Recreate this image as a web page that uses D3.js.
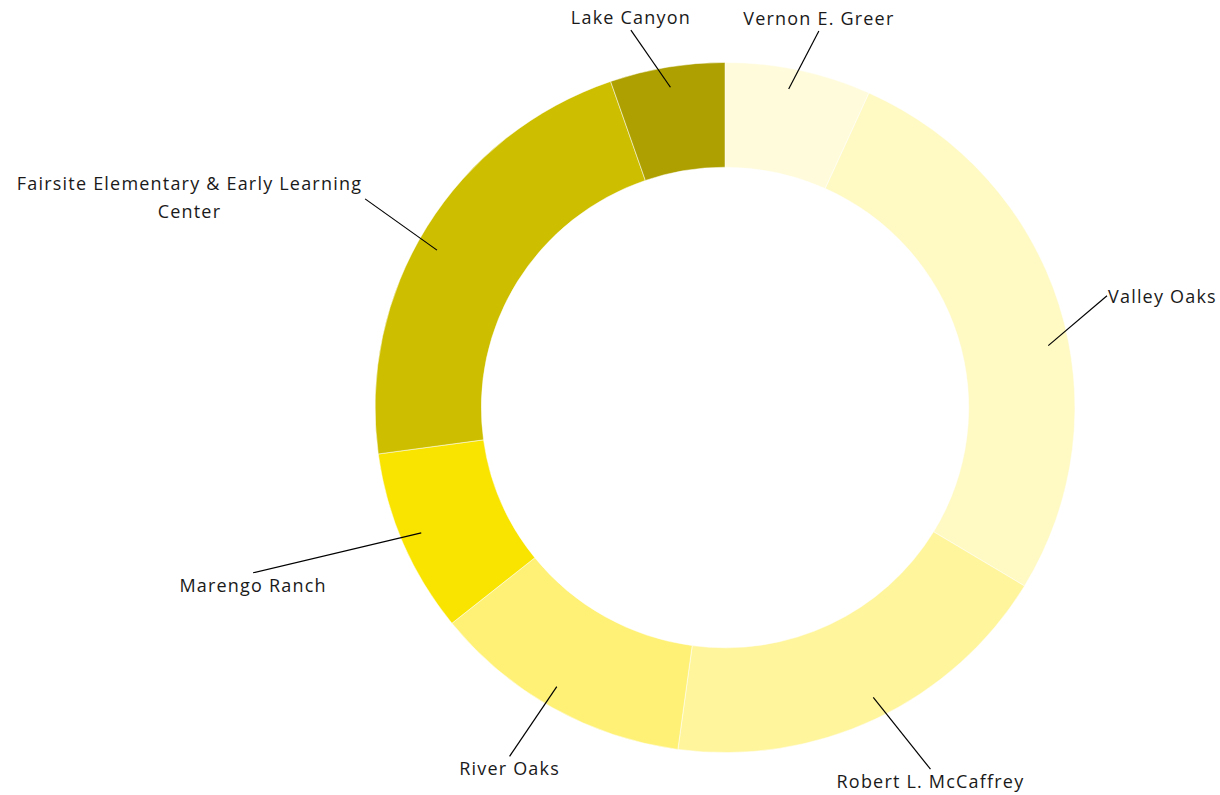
<!DOCTYPE html>
<html>
<head>
<meta charset="utf-8">
<script src="https://cdn.jsdelivr.net/npm/d3@7"></script>
<style>
  html, body { margin: 0; padding: 0; background: #fff; }
  svg { display: block; }
  .lbl { font-family: "Open Sans", sans-serif; font-size: 18px; fill: #1a1a1a; letter-spacing: 1.2px; }
</style>
</head>
<body>
<div id="chart"></div>
<script>
// 饼图数据 (读图估计的份额, %)
const schools = ["Vernon E. Greer", "Valley Oaks", "Robert L. McCaffrey", "River Oaks",
  "Marengo Ranch", "Fairsite Elementary & Early Learning Center", "Lake Canyon"];
const shares = [6.75, 26.9, 18.5, 12.1, 8.6, 21.85, 5.3];
const colors = ["#fffbdb", "#fff9c4", "#fff59d", "#fff176", "#f9e400", "#cdbf00", "#ada000"];

// 标签: 引线内端相对扇区中线的偏移(度), 外端角度(度, 顺时针自12点)和半径, 文字摆放方式
const leadNudge = [-1, 6.3, -1.2, 1.2, 0.5, -2.6, 0];
const labelAngle = [14, 73.7, 150.4, 211.7, 250.7, 300.1, 346];
const labelRadius = [388, 398, 416, 410, 500, 416, 389];
const labelMode = ["above", "right", "below", "below", "below", "left", "above"];
const labelLines = [["Vernon E. Greer"], ["Valley Oaks"], ["Robert L. McCaffrey"], ["River Oaks"],
  ["Marengo Ranch"], ["Fairsite Elementary & Early Learning", "Center"], ["Lake Canyon"]];

const W = 1220, H = 795;
const cx = 725, cy = 407.5, rOuter = 347.5, rInner = 242, rLead = 327;
const sx = 1.007, sy = 0.993; // 原图略呈椭圆

const svg = d3.select("#chart").append("svg").attr("width", W).attr("height", H);
const g = svg.append("g").attr("transform", `translate(${cx},${cy})`);
const ring = g.append("g").attr("transform", `scale(${sx},${sy})`);

const pie = d3.pie().sort(null).value((d) => d);
const arcs = pie(shares);
const arc = d3.arc().innerRadius(rInner).outerRadius(rOuter);

ring.selectAll("path.slice").data(arcs).join("path")
  .attr("class", "slice")
  .attr("d", arc)
  .attr("fill", (d, i) => colors[i])
  .attr("stroke", "#fff").attr("stroke-width", 0.5);

const toXY = (deg, r) => {
  const a = deg * Math.PI / 180;
  return [Math.sin(a) * r, -Math.cos(a) * r];
};

arcs.forEach((d, i) => {
  const mid = (d.startAngle + d.endAngle) / 2 * 180 / Math.PI + leadNudge[i];
  const [x0, y0] = toXY(mid, rLead);
  const [x1, y1] = toXY(labelAngle[i], labelRadius[i]);
  g.append("line").attr("x1", x0 * sx).attr("y1", y0 * sy).attr("x2", x1).attr("y2", y1)
    .attr("stroke", "#000").attr("stroke-width", 1.2);

  const mode = labelMode[i];
  const lines = labelLines[i];
  const lh = 28;
  const t = g.append("text").attr("class", "lbl");
  let tx = x1, anchor = "middle", ty;
  if (mode === "above") ty = y1 - 6;
  else if (mode === "below") ty = y1 + 19;
  else if (mode === "right") { tx = x1 + 1; anchor = "start"; ty = y1 + 7; }
  else { tx = x1 - 3; anchor = "end"; ty = y1 - 9; }
  t.attr("text-anchor", anchor);
  let firstW = 0;
  lines.forEach((s, k) => {
    const sp = t.append("tspan").text(s).attr("x", tx).attr("y", ty + k * lh);
    if (k === 0) firstW = sp.node().getComputedTextLength();
    // 第二行居中于首行之下
    else if (mode === "left") sp.attr("x", tx - firstW / 2).attr("text-anchor", "middle");
  });
});
</script>
</body>
</html>
